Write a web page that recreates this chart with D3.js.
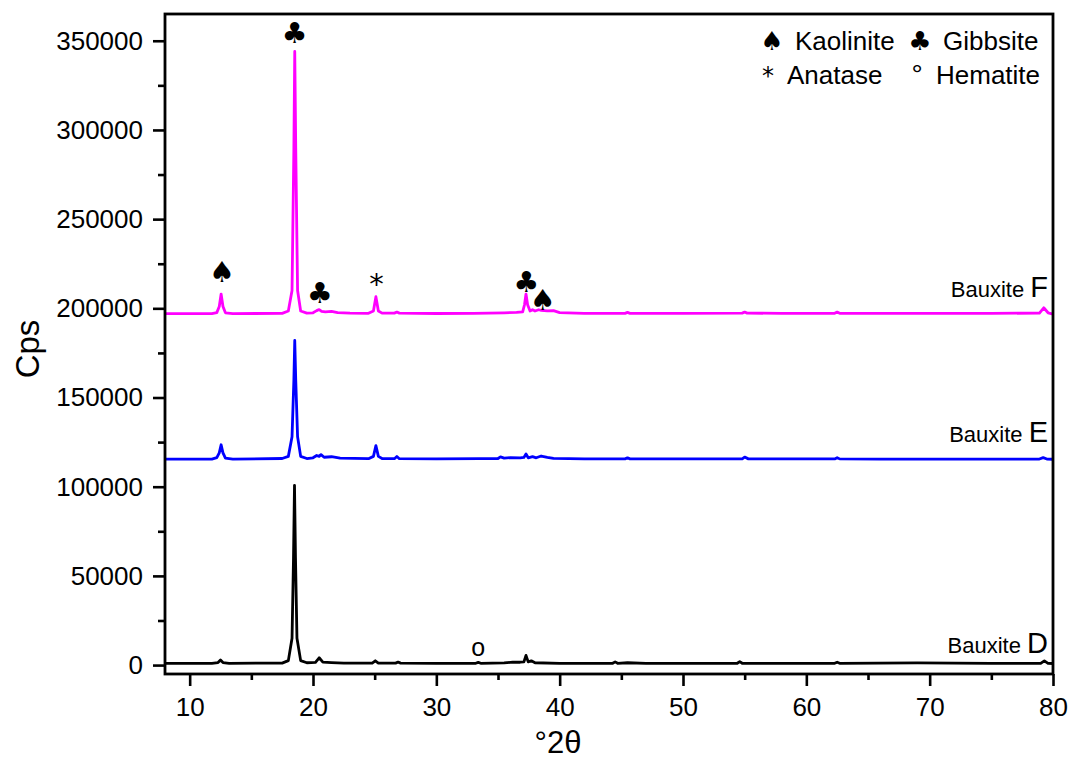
<!DOCTYPE html>
<html>
<head>
<meta charset="utf-8">
<script src="https://cdn.jsdelivr.net/npm/d3@7"></script>
<style>
  body { margin: 0; background: #fff; }
  text { font-family: "Liberation Sans", Arial, sans-serif; }
</style>
</head>
<body>
<div id="chart"></div>
<script>
// XRD patterns, [2theta, cps]
const bauxiteF = [
  [8, 197000], [11.8, 197000], [12.2, 197600], [12.4, 201000], [12.55, 208000], [12.7, 201000],
  [12.9, 197500], [13.5, 197000], [17.5, 197200], [18.0, 198500], [18.3, 210000], [18.45, 290000],
  [18.52, 344000], [18.6, 290000], [18.75, 210000], [19.0, 198500], [19.5, 197300], [20.0, 197500],
  [20.3, 198700], [20.5, 199300], [20.7, 198300], [21.0, 198000], [21.5, 198300], [22.0, 197600],
  [23.0, 197300], [24.5, 197200], [24.9, 198500], [25.1, 206500], [25.3, 198500], [25.6, 197300],
  [26.6, 197300], [26.8, 197900], [27.0, 197300], [30, 197100], [33, 197200], [35.5, 197500], [36.5, 197700],
  [37.0, 198000], [37.15, 202000], [37.27, 208000], [37.4, 202000], [37.6, 198500], [37.8, 199200],
  [38.0, 198500], [38.3, 199200], [38.5, 198900], [39.0, 198600], [39.5, 198700], [40, 197600],
  [42, 197200], [45.3, 197200], [45.5, 197700], [45.7, 197200], [50, 197200], [54.8, 197300], [55, 197900],
  [55.2, 197300], [58, 197200], [62.3, 197200], [62.5, 197900], [62.7, 197200], [66, 197200], [70, 197200],
  [75, 197200], [78.9, 197300], [79.25, 200300], [79.6, 197500], [80, 196800]
];
const bauxiteE = [
  [8, 115500], [11.8, 115500], [12.2, 116300], [12.4, 119000], [12.55, 123500], [12.7, 119000],
  [12.9, 116000], [13.5, 115500], [17.5, 115800], [18.0, 117000], [18.3, 128000], [18.45, 160000],
  [18.52, 182000], [18.6, 160000], [18.75, 128000], [19.0, 117000], [19.5, 115800], [20.0, 116200],
  [20.3, 117500], [20.5, 117000], [20.65, 118000], [20.9, 116500], [21.5, 116800], [22.2, 116000],
  [24.5, 115700], [24.9, 117000], [25.1, 123000], [25.3, 117000], [25.6, 115800], [26.6, 115700],
  [26.8, 116900], [27.0, 115700], [30, 115600], [33.5, 115700], [35.0, 115800], [35.2, 116700],
  [35.5, 116000], [36.0, 116300], [36.8, 116200], [37.1, 116400], [37.27, 118300], [37.45, 116200],
  [37.8, 116900], [38.1, 116200], [38.5, 117200], [39.0, 116500], [39.5, 115900], [42, 115600],
  [45.3, 115600], [45.5, 116200], [45.7, 115600], [50, 115600], [54.8, 115600], [55, 116600],
  [55.3, 115600], [58, 115600], [62.3, 115600], [62.5, 116300], [62.7, 115600], [66, 115500],
  [70, 115500], [75, 115500], [78.9, 115500], [79.2, 116300], [79.5, 115500], [80, 115400]
];
const bauxiteD = [
  [8, 1000], [11.8, 1000], [12.3, 1400], [12.5, 2800], [12.7, 1400], [13.2, 1000], [17.5, 1100],
  [18.0, 2500], [18.3, 15000], [18.42, 60000], [18.5, 100800], [18.58, 60000], [18.7, 15000],
  [19.0, 2500], [19.5, 1300], [20.2, 1500], [20.5, 4100], [20.8, 1700], [21.5, 1400], [22.5, 1100],
  [24.8, 1100], [25.05, 2400], [25.3, 1100], [26.7, 1100], [26.9, 1700], [27.1, 1100], [30, 1000],
  [33.2, 1000], [33.4, 1500], [33.6, 1000], [35.5, 1200], [36.2, 1700], [36.8, 1600], [37.1, 1800],
  [37.27, 5400], [37.45, 1800], [37.7, 2400], [38.0, 1300], [40, 1000], [44.3, 1000], [44.5, 1800],
  [44.7, 1000], [45.5, 1300], [47, 1000], [50, 1000], [54.4, 1000], [54.6, 1900], [54.8, 1000],
  [60, 1000], [62.3, 1000], [62.5, 1600], [62.7, 1000], [69, 1200], [72, 1100], [75, 1000],
  [79.0, 1000], [79.3, 2400], [79.6, 1000], [80, 900]
];

const seriesNames = ['D', 'E', 'F'];
const seriesColors = ['#000000', '#0000ff', '#ff00ff'];
const seriesLabelY = [7000, 125000, 206500];

// phase markers [2theta, cps, symbol]
const phaseMarks = [
  [12.6, 220300, '\u2660'], [18.5, 354500, '\u2663'], [20.55, 208500, '\u2663'],
  [25.15, 213600, '*'], [37.3, 215000, '\u2663'], [38.6, 204500, '\u2660'], [33.4, 10250, 'o']
];

const xMajor = [10, 20, 30, 40, 50, 60, 70, 80];
const xMinor = [15, 25, 35, 45, 55, 65, 75];
const yMajor = [0, 50000, 100000, 150000, 200000, 250000, 300000, 350000];
const yMinor = [25000, 75000, 125000, 175000, 225000, 275000, 325000];

const width = 1074, height = 761;
const margin = { top: 14, right: 21, bottom: 87, left: 165 };

const svg = d3.select('#chart').append('svg')
  .attr('width', width)
  .attr('height', height)
  .style('background', '#fff');

const x = d3.scaleLinear().domain([8, 80]).range([margin.left, width - margin.right]);
const y = d3.scaleLinear().domain([-5000, 365000]).range([height - margin.bottom, margin.top]);

// curves
const line = d3.line().x(d => x(d[0])).y(d => y(d[1]));
const lines = [bauxiteD, bauxiteE, bauxiteF];
svg.append('g')
  .selectAll('path')
  .data(lines)
  .enter().append('path')
  .attr('d', line)
  .attr('fill', 'none')
  .attr('stroke', (d, i) => seriesColors[i])
  .attr('stroke-width', 2.8)
  .attr('stroke-linejoin', 'round');

// axes
svg.append('g')
  .attr('transform', `translate(0,${height - margin.bottom})`)
  .call(d3.axisBottom(x).tickValues(xMajor).tickSize(12).tickPadding(12).tickFormat(d3.format('d')));
svg.append('g')
  .attr('transform', `translate(0,${height - margin.bottom})`)
  .call(d3.axisBottom(x).tickValues(xMinor).tickSize(6).tickFormat(''));
svg.append('g')
  .attr('transform', `translate(${margin.left},0)`)
  .call(d3.axisLeft(y).tickValues(yMajor).tickSize(12).tickPadding(10).tickFormat(d3.format('d')));
svg.append('g')
  .attr('transform', `translate(${margin.left},0)`)
  .call(d3.axisLeft(y).tickValues(yMinor).tickSize(7).tickFormat(''));

svg.selectAll('.domain').remove();
svg.selectAll('.tick line').attr('stroke', '#000').attr('stroke-width', 2.6);
svg.selectAll('.tick text')
  .attr('fill', '#000')
  .style('font-size', '26px')
  .style('font-family', '"Liberation Sans", Arial, sans-serif');

// frame
svg.append('rect')
  .attr('x', margin.left)
  .attr('y', margin.top)
  .attr('width', width - margin.left - margin.right)
  .attr('height', height - margin.top - margin.bottom)
  .attr('fill', 'none')
  .attr('stroke', '#000')
  .attr('stroke-width', 2.8);

// axis titles
svg.append('text')
  .attr('transform', 'translate(39,349) rotate(-90)')
  .attr('text-anchor', 'middle')
  .style('font-size', '33px')
  .text('Cps');
svg.append('text')
  .attr('x', 558)
  .attr('y', 753)
  .attr('text-anchor', 'middle')
  .style('font-size', '31px')
  .text('\u00b02\u03b8');

// series labels
const lab = svg.append('g').selectAll('text')
  .data(seriesNames)
  .enter().append('text')
  .attr('x', 1048)
  .attr('y', (d, i) => y(seriesLabelY[i]))
  .attr('text-anchor', 'end');
lab.append('tspan').style('font-size', '22px').text('Bauxite ');
lab.append('tspan').style('font-size', '29px').text(d => d);

// phase markers
svg.append('g').selectAll('text')
  .data(phaseMarks)
  .enter().append('text')
  .attr('x', d => x(d[0]))
  .attr('y', d => y(d[1]))
  .attr('text-anchor', 'middle')
  .attr('dominant-baseline', 'central')
  .style('font-family', d => d[2] === 'o' ? '"Liberation Sans", Arial' : '"DejaVu Sans", sans-serif')
  .style('font-size', d => d[2] === 'o' ? '25px' : '29px')
  .text(d => d[2]);

// legend
const legendItems = [
  ['\u2660', 'Kaolinite', 772, 50], ['\u2663', 'Gibbsite', 920, 50],
  ['*', 'Anatase', 768, 84], ['\u00b0', 'Hematite', 917, 84]
];
const leg = svg.append('g');
legendItems.forEach(it => {
  leg.append('text')
    .attr('x', it[2]).attr('y', it[3])
    .attr('text-anchor', 'middle')
    .style('font-family', it[0] === '\u00b0' ? '"Liberation Sans", Arial' : '"DejaVu Sans", sans-serif')
    .style('font-size', it[0] === '*' ? '24px' : it[0] === '\u00b0' ? '28px' : '26px')
    .text(it[0]);
  leg.append('text')
    .attr('x', it[2] + (it[0] === '\u2660' || it[0] === '\u2663' ? 23 : 19))
    .attr('y', it[3])
    .style('font-size', '26px')
    .text(it[1]);
});
</script>
</body>
</html>
